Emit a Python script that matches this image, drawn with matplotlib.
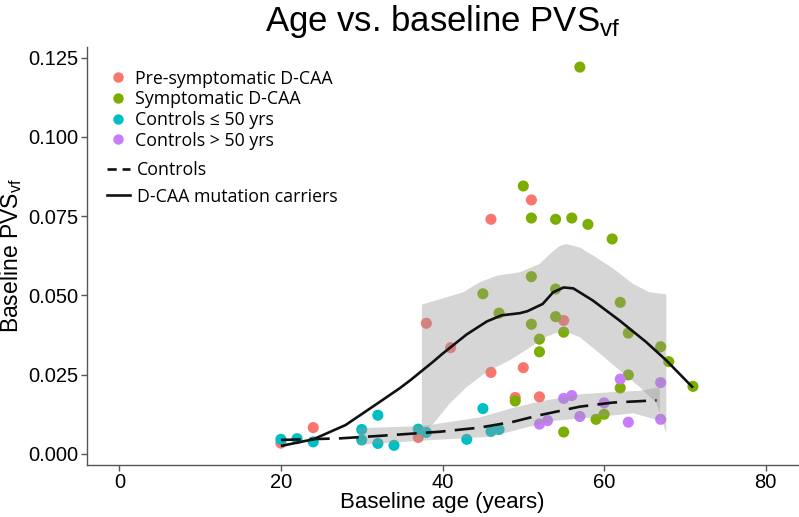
import numpy as np
import matplotlib
matplotlib.use("Agg")
import matplotlib.pyplot as plt
from matplotlib.lines import Line2D
from matplotlib.font_manager import FontProperties

plt.rcParams['font.family'] = ['Liberation Sans', 'DejaVu Sans']
plt.rcParams['mathtext.fontset'] = 'custom'
plt.rcParams['mathtext.rm'] = 'Liberation Sans'
plt.rcParams['mathtext.it'] = 'Liberation Sans'
plt.rcParams['mathtext.default'] = 'regular'

# ---------------- data ----------------
pre_age = [20, 24, 37, 38, 41, 46, 46, 49, 50, 51, 52, 55]
pre_pvs = [0.0034, 0.0083, 0.0052, 0.0412, 0.0335, 0.0740, 0.0257, 0.0178, 0.0272, 0.0801, 0.0180, 0.0421]

sym_age = [45, 47, 49, 50, 51, 51, 51, 52, 52, 54, 54, 54, 55, 55, 56, 57, 58, 59, 60, 61, 62, 62, 63, 63, 67, 68, 71]
sym_pvs = [0.0505, 0.0444, 0.0167, 0.0845, 0.0744, 0.0559, 0.0409, 0.0362, 0.0322, 0.0740, 0.0520, 0.0433,
           0.0384, 0.0069, 0.0744, 0.1220, 0.0724, 0.0109, 0.0125, 0.0678, 0.0478, 0.0208, 0.0381, 0.0249,
           0.0338, 0.0291, 0.0213]

cy_age = [20, 22, 24, 30, 30, 32, 32, 34, 37, 38, 43, 45, 46, 47]
cy_pvs = [0.0046, 0.0048, 0.0038, 0.0077, 0.0044, 0.0122, 0.0033, 0.0027, 0.0078, 0.0068, 0.0046, 0.0143, 0.0071, 0.0077]

co_age = [52, 53, 55, 56, 57, 60, 62, 63, 67, 67]
co_pvs = [0.0094, 0.0105, 0.0175, 0.0184, 0.0118, 0.0161, 0.0236, 0.0100, 0.0225, 0.0109]

# smoothed curves
dcaa_x = [20, 24, 28, 32, 34.7, 36, 38.9, 40, 43, 45.5, 47.3, 49.6, 50.5, 52.4, 53.7, 55, 56.2, 58.6, 61.9, 65.2, 67.7, 71]
dcaa_y = [0.0025, 0.0046, 0.0091, 0.0160, 0.0207, 0.0232, 0.0292, 0.0316, 0.0377, 0.0418, 0.0437, 0.0444, 0.0450,
          0.0473, 0.0510, 0.0525, 0.0522, 0.0484, 0.0421, 0.0353, 0.0295, 0.0209]
dcaa_up_x = [37.45, 40.0, 42.6, 44.5, 46.7, 49.6, 52.0, 53.5, 54.5, 55.3, 57.0, 59.0, 61.1, 63.6, 65.6, 67.7]
dcaa_up_y = [0.0471, 0.0490, 0.0510, 0.0540, 0.0562, 0.0573, 0.0599, 0.0635, 0.0656, 0.0662, 0.0651, 0.0620,
             0.0585, 0.0536, 0.0510, 0.0503]
dcaa_lo_x = [37.45, 38.9, 40.9, 43.0, 45.5, 48.3, 50.5, 52.9, 54.9, 57.0, 59.5, 61.9, 64.4, 66.5, 67.7]
dcaa_lo_y = [0.0070, 0.0096, 0.0159, 0.0211, 0.0259, 0.0295, 0.0330, 0.0370, 0.0389, 0.0368, 0.0316, 0.0264,
             0.0211, 0.0159, 0.0065]

ctrl_x = [20, 27.3, 32.3, 39.7, 44.6, 48.7, 52.0, 57.0, 61.1, 66.5]
ctrl_y = [0.0044, 0.0049, 0.0057, 0.0070, 0.0083, 0.0101, 0.0122, 0.0149, 0.0162, 0.0169]
ctrl_up_x = [29.6, 37.6, 44.6, 48.7, 52.0, 57.0, 61.1, 64.4, 66.9]
ctrl_up_y = [0.0081, 0.0088, 0.0115, 0.0145, 0.0165, 0.0188, 0.0195, 0.0199, 0.0210]
ctrl_lo_x = [29.6, 37.6, 45.9, 50.8, 54.0, 59.5, 63.6, 66.9]
ctrl_lo_y = [0.0028, 0.0042, 0.0054, 0.0086, 0.0105, 0.0117, 0.0128, 0.0105]

labels = ['Pre-symptomatic D-CAA', 'Symptomatic D-CAA', 'Controls \u2264 50 yrs', 'Controls > 50 yrs']
colors = ['#F8766D', '#7CAE00', '#00BFC4', '#C77CFF']
xticks = [0, 20, 40, 60, 80]
yticks = [0.000, 0.025, 0.050, 0.075, 0.100, 0.125]

# ---------------- figure ----------------
fig = plt.figure(figsize=(7.99, 5.17), dpi=100)
ax = fig.add_axes([87 / 799, 52 / 517, 711 / 799, 418.5 / 517])

groups = [(pre_age, pre_pvs), (sym_age, sym_pvs), (cy_age, cy_pvs), (co_age, co_pvs)]
for (gx, gy), c in zip(groups, colors):
    ax.scatter(gx, gy, s=64, color=c, edgecolors='none', zorder=2)

ribbon_col = '#999999'
ax.fill(np.concatenate([dcaa_up_x, dcaa_lo_x[::-1]]), np.concatenate([dcaa_up_y, dcaa_lo_y[::-1]]),
        color=ribbon_col, alpha=0.4, lw=0, zorder=3)
ax.fill(np.concatenate([ctrl_up_x, ctrl_lo_x[::-1]]), np.concatenate([ctrl_up_y, ctrl_lo_y[::-1]]),
        color=ribbon_col, alpha=0.4, lw=0, zorder=3)

ax.plot(dcaa_x, dcaa_y, color='#111111', lw=1.9, zorder=4, solid_capstyle='butt')
ax.plot(ctrl_x, ctrl_y, color='#111111', lw=1.9, zorder=4, dashes=(7.5, 3.5))

ax.set_xlim(-4, 84)
ax.set_ylim(-0.0035, 0.1285)
ax.set_xticks(xticks)
ax.set_yticks(yticks)
ax.set_yticklabels([f'{v:.3f}' for v in yticks])
for s in ['top', 'right']:
    ax.spines[s].set_visible(False)
for s in ['left', 'bottom']:
    ax.spines[s].set_color('#555555')
    ax.spines[s].set_linewidth(1.0)
ax.tick_params(axis='both', labelsize=14.5, colors='#555555', labelcolor='black', length=4, width=1, pad=2)

ax.set_xlabel('Baseline age (years)', fontsize=16, labelpad=0)
ax.set_ylabel('Baseline PVS$_{vf}$', fontsize=16.5, labelpad=3)
ax.set_title('Age vs. baseline PVS$_{vf}$', fontsize=25, pad=11)

lp = FontProperties(family=['Open Sans', 'DejaVu Sans'], size=12.8)
h1 = [Line2D([], [], ls='none', marker='o', markersize=7.5, markerfacecolor=c, markeredgecolor='none') for c in colors]
leg1 = ax.legend(h1, labels, loc='upper left', bbox_to_anchor=(0.031, 0.945), frameon=False, prop=lp,
                 borderpad=0, borderaxespad=0, handlelength=1.0, handletextpad=0.45, labelspacing=0.15)
ax.add_artist(leg1)
h2 = [Line2D([], [], color='#111111', lw=1.9, dashes=(3.5, 2.2)), Line2D([], [], color='#111111', lw=1.9)]
ax.legend(h2, ['Controls', 'D-CAA mutation carriers'], loc='upper left', bbox_to_anchor=(0.0281, 0.727),
          frameon=False, prop=lp, borderpad=0, borderaxespad=0, handlelength=1.3, handletextpad=0.4,
          labelspacing=0.5)

fig.savefig('out.png', dpi=100)
